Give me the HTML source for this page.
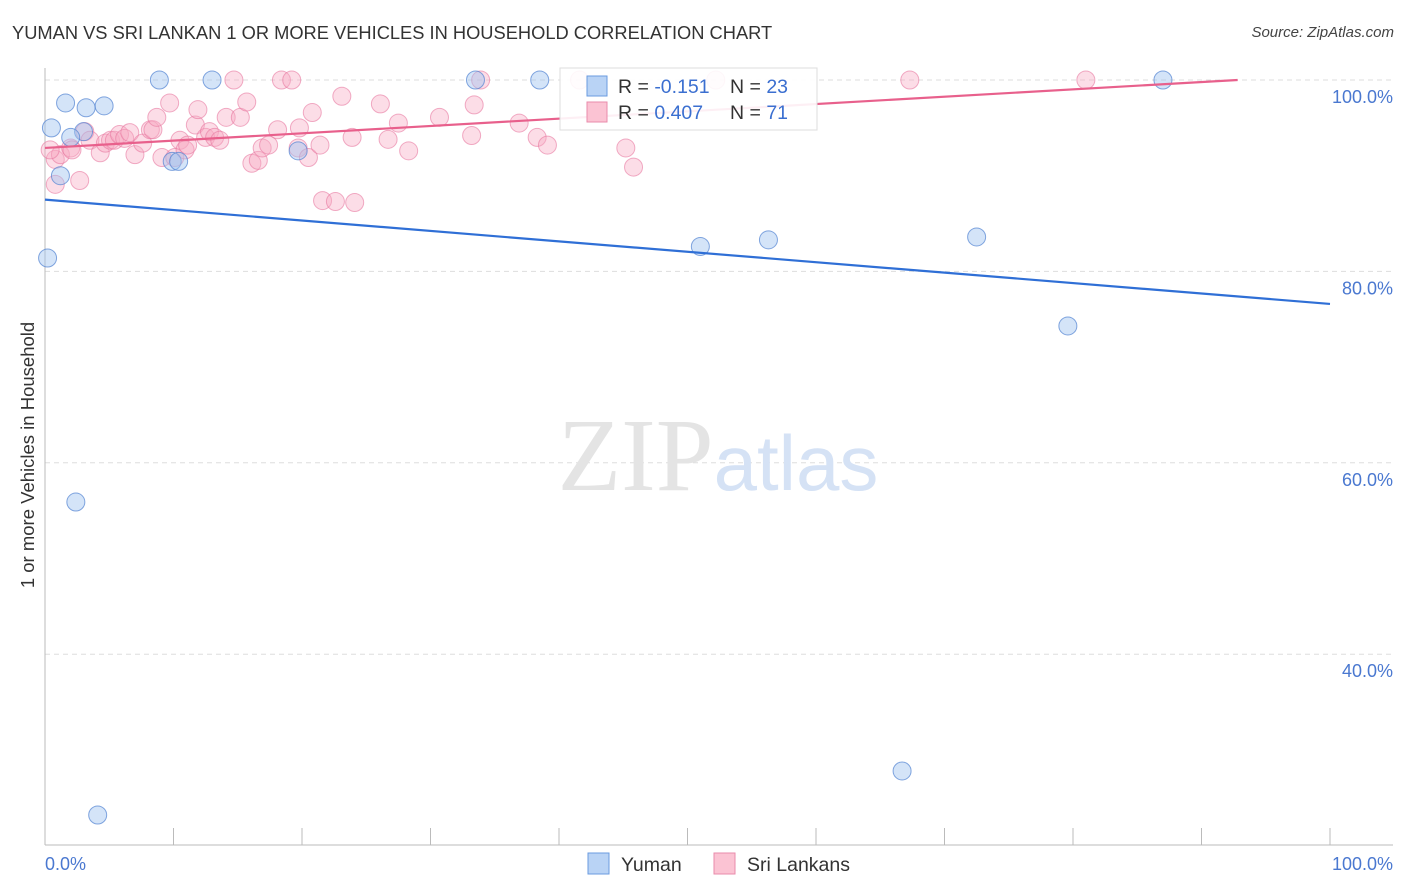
<!DOCTYPE html>
<html><head><meta charset="utf-8"><style>
body{margin:0;background:#fff;font-family:"Liberation Sans",sans-serif;}
#wrap{position:relative;width:1406px;height:892px;overflow:hidden}
.t{position:absolute;white-space:nowrap}
</style></head><body>
<div id="wrap">
<div class="t" style="left:12px;top:22px;font-size:18.3px;color:#333">YUMAN VS SRI LANKAN 1 OR MORE VEHICLES IN HOUSEHOLD CORRELATION CHART</div>
<div class="t" style="right:12px;top:24px;font-size:15px;color:#444;font-style:italic">Source: ZipAtlas.com</div>
<div class="t" style="left:28px;top:455px;font-size:18.5px;color:#333;transform:translate(-50%,-50%) rotate(-90deg)">1 or more Vehicles in Household</div>
<svg id="svg" width="1406" height="892" style="position:absolute;left:0;top:0"></svg>
</div>
<script>
const yumanX=[0.5,1.6,3.2,4.6,8.9,13,33.5,38.5,87,3,2,1.2,0.2,9.9,10.4,19.7,51,56.3,72.5,79.6,2.4,66.7,4.1];
const yumanY=[95,97.6,97.1,97.3,100,100,100,100,100,94.6,94,90,81.4,91.5,91.5,92.6,82.6,83.3,83.6,74.3,55.9,27.8,23.2];
const sriX=[0.8,0.8,1.2,2,2.1,2.7,3.1,3.5,4.3,4.7,5.1,5.4,5.8,6.2,6.6,7,7.6,8.2,8.4,8.7,9.1,9.7,10.1,10.5,10.9,11.1,11.7,11.9,12.5,12.8,13.2,13.6,14.1,14.7,15.2,15.7,16.1,16.6,16.9,17.4,18.1,18.4,19.2,19.8,19.7,20.5,20.8,21.4,21.6,22.6,23.1,23.9,24.1,26.1,26.7,27.5,28.3,30.7,33.4,33.2,33.9,36.9,38.3,39.1,41.6,45.2,45.8,52.2,67.3,81,0.4];
const sriY=[89.1,91.7,92.2,92.9,92.7,89.5,94.6,93.7,92.4,93.4,93.7,93.7,94.3,93.9,94.5,92.2,93.4,94.8,94.8,96.1,91.9,97.6,91.9,93.7,92.7,93.2,95.3,96.9,94,94.6,94,93.7,96.1,100,96.1,97.7,91.3,91.6,92.9,93.2,94.8,100,100,95,92.9,91.9,96.6,93.2,87.4,87.3,98.3,94,87.2,97.5,93.8,95.5,92.6,96.1,97.4,94.2,100,95.5,94,93.2,100,92.9,90.9,100,100,100,92.7];
const trendBlue=[87.5,76.6];
const trendPink=[92.9,0.0765];
const yTicks=[100,80,60,40];
const yTickLabels=["100.0%","80.0%","60.0%","40.0%"];
const xTickLabels=["0.0%","100.0%"];
const NS="http://www.w3.org/2000/svg";
const svg=document.getElementById('svg');
const X=v=>45+v*12.85, Y=v=>80+(100-v)*9.57;
function mk(t,a){const e=document.createElementNS(NS,t);for(const k in a)e.setAttribute(k,a[k]);svg.appendChild(e);return e;}
yTicks.forEach((v,i)=>{
 const g=mk('line',{x1:45,x2:1393,y1:Y(v),y2:Y(v),stroke:'#ddd','stroke-dasharray':'5,4'});
 
 
 const t=mk('text',{x:1393,y:Y(v)+23,'text-anchor':'end','font-size':18,fill:'#4a78d0','font-family':'Liberation Sans'});
 t.textContent=yTickLabels[i];
 
 
});
const ax=mk('line',{x1:45,x2:45,y1:68,y2:845,stroke:'#bbb'});


const bx=mk('line',{x1:45,x2:1393,y1:845,y2:845,stroke:'#bbb'});


for(let i=0;i<=10;i++){const l=mk('line',{x1:X(i*10),x2:X(i*10),y1:828,y2:845,stroke:'#bbb'});
 
 }
xTickLabels.forEach((s,i)=>{const t=mk('text',{x:i?1393:45,y:870,'text-anchor':i?'end':'start','font-size':18,fill:'#4a78d0','font-family':'Liberation Sans'});t.textContent=s;
 
 });
const w=mk('text',{x:718,y:490,'text-anchor':'middle','font-size':104,'font-family':'Liberation Serif',fill:'#e4e4e4'});
w.innerHTML='ZIP<tspan font-family="Liberation Sans" font-size="78" fill="#d5e2f5">atlas</tspan>';


sriX.forEach((x,i)=>{const c=mk('circle',{cx:X(x),cy:Y(sriY[i]),r:9,fill:'rgba(248,170,195,0.4)',stroke:'rgba(232,120,160,0.6)','stroke-width':1});
 
 });
yumanX.forEach((x,i)=>{const c=mk('circle',{cx:X(x),cy:Y(yumanY[i]),r:9,fill:'rgba(160,195,240,0.45)',stroke:'rgba(80,130,210,0.7)','stroke-width':1});
 
 });
const tb=mk('line',{x1:X(0),y1:Y(trendBlue[0]),x2:X(100),y2:Y(trendBlue[1]),stroke:'#2f6fd6','stroke-width':2.2});


const xEnd=Math.min(100,(100-trendPink[0])/trendPink[1]);
const tp=mk('line',{x1:X(0),y1:Y(trendPink[0]),x2:X(xEnd),y2:Y(trendPink[0]+trendPink[1]*xEnd),stroke:'#e8608c','stroke-width':2.2});


const lg=mk('rect',{x:560,y:68,width:257,height:62,fill:'rgba(255,255,255,0.9)',stroke:'#ddd'});


[[0,'#b9d3f5','#6a9be0','-0.151','23'],[1,'#fbc3d3','#ea8bab','0.407','71']].forEach(r=>{
 const y0=76+r[0]*26;
 const s=mk('rect',{x:587,y:y0,width:20,height:20,fill:r[1],stroke:r[2]});
 
 
 const t=mk('text',{x:618,y:y0+17,'font-size':19.5,fill:'#333','font-family':'Liberation Sans'});
 t.innerHTML='R = <tspan fill="#3b6fd0">'+r[3]+'</tspan><tspan x="730">N = </tspan><tspan fill="#3b6fd0">'+r[4]+'</tspan>';
 
 
});
[[588,'#b9d3f5','#6a9be0','Yuman'],[714,'#fbc3d3','#ea8bab','Sri Lankans']].forEach(r=>{
 const s=mk('rect',{x:r[0],y:853,width:21,height:21,fill:r[1],stroke:r[2]});
 
 
 const t=mk('text',{x:r[0]+33,y:871,'font-size':19.5,fill:'#333','font-family':'Liberation Sans'});t.textContent=r[3];
 
 
});
</script>
</body></html>
